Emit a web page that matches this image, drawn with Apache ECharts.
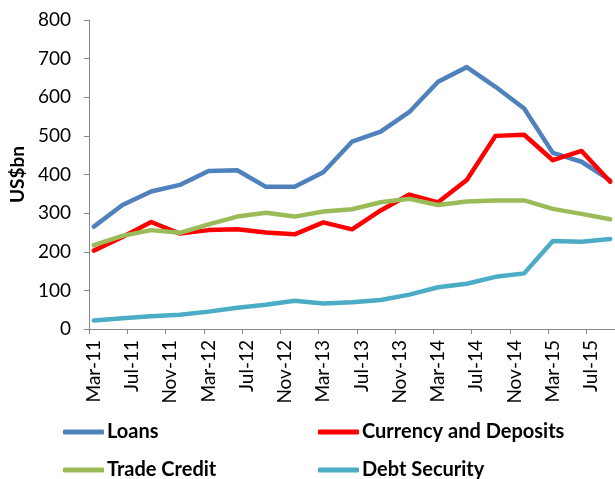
<!DOCTYPE html>
<html>
<head>
<meta charset="utf-8">
<script src="https://cdn.jsdelivr.net/npm/echarts@6/dist/echarts.min.js"></script>
<style>
html,body{margin:0;padding:0;background:#fff;}
#chart{width:615px;height:479px;}
</style>
</head>
<body>
<div id="chart"></div>
<script>
var months = ['Mar-11','Apr-11','May-11','Jun-11','Jul-11','Aug-11','Sep-11','Oct-11','Nov-11','Dec-11',
  'Jan-12','Feb-12','Mar-12','Apr-12','May-12','Jun-12','Jul-12','Aug-12','Sep-12','Oct-12','Nov-12','Dec-12',
  'Jan-13','Feb-13','Mar-13','Apr-13','May-13','Jun-13','Jul-13','Aug-13','Sep-13','Oct-13','Nov-13','Dec-13',
  'Jan-14','Feb-14','Mar-14','Apr-14','May-14','Jun-14','Jul-14','Aug-14','Sep-14','Oct-14','Nov-14','Dec-14',
  'Jan-15','Feb-15','Mar-15','Apr-15','May-15','Jun-15','Jul-15','Aug-15','Sep-15'];
var quarters = ['Mar-11','Jun-11','Sep-11','Dec-11','Mar-12','Jun-12','Sep-12','Dec-12','Mar-13','Jun-13',
  'Sep-13','Dec-13','Mar-14','Jun-14','Sep-14','Dec-14','Mar-15','Jun-15','Sep-15'];
var loans    = [265, 321, 356, 373, 409, 411, 368, 368, 406, 485, 511, 562, 640, 678, 627, 571, 456, 433, 385];
var currency = [203, 238, 277, 247, 256, 258, 250, 245, 276, 258, 307, 348, 328, 386, 500, 503, 437, 461, 381];
var trade    = [217, 241, 256, 249, 271, 291, 301, 291, 304, 310, 328, 337, 321, 330, 333, 333, 311, 298, 284];
var debt     = [22, 28, 33, 37, 45, 55, 63, 73, 66, 69, 75, 89, 108, 117, 135, 144, 228, 226, 233];
var yTicks = [0, 100, 200, 300, 400, 500, 600, 700, 800];
var seriesNames = ['Loans','Currency and Deposits','Trade Credit','Debt Security'];

function pairs(vals){ return quarters.map(function(q,i){ return [q, vals[i]]; }); }
var FONT = 'Lato';
var axisGrey = '#868686';

function mk(name, vals, color, w){
  return {name:name, type:'line', data:pairs(vals), symbol:'none', connectNulls:true,
    lineStyle:{color:color, width:w, cap:'round', join:'round'}, itemStyle:{color:color}, animation:false};
}
function lg(name, left, top){
  return {data:[{name:name, icon:'roundRect'}], orient:'horizontal', left:left, top:top,
    itemWidth:41, itemHeight:5, itemGap:0, padding:0, selectedMode:false,
    textStyle:{fontFamily:FONT, fontWeight:'bold', fontSize:20, color:'#000', padding:[0,0,0,-2]}};
}

var chart = echarts.init(document.getElementById('chart'), null, {renderer:'canvas'});
chart.setOption({
  animation:false,
  backgroundColor:'#ffffff',
  grid:{left:81, top:20, width:539, height:309, containLabel:false},
  xAxis:{type:'category', data:months, boundaryGap:true,
    axisLine:{lineStyle:{color:axisGrey, width:1}},
    axisTick:{show:true, interval:3, length:5, lineStyle:{color:axisGrey}},
    axisLabel:{interval:3, rotate:90, margin:11, fontFamily:FONT, fontSize:19, color:'#000'},
    splitLine:{show:false}},
  yAxis:{type:'value', min:yTicks[0], max:yTicks[yTicks.length-1], interval:100,
    name:'US$bn', nameLocation:'middle', nameGap:62, nameRotate:90,
    nameTextStyle:{fontFamily:FONT, fontWeight:'bold', fontSize:19, color:'#000'},
    axisLine:{show:true, lineStyle:{color:axisGrey, width:1}},
    axisTick:{show:true, length:5, lineStyle:{color:axisGrey}},
    axisLabel:{margin:18, fontFamily:FONT, fontSize:19, color:'#000'},
    splitLine:{show:false}},
  legend:[
    lg(seriesNames[0], 63, 422),
    lg(seriesNames[1], 318, 422),
    lg(seriesNames[2], 63, 460),
    lg(seriesNames[3], 318, 460)
  ],
  series:[
    mk(seriesNames[0], loans, '#4F81BD', 4.5),
    mk(seriesNames[1], currency, '#FF0000', 4.5),
    mk(seriesNames[2], trade, '#9BBB59', 4.5),
    mk(seriesNames[3], debt, '#4BACC6', 4.5)
  ]
});
</script>
</body>
</html>
